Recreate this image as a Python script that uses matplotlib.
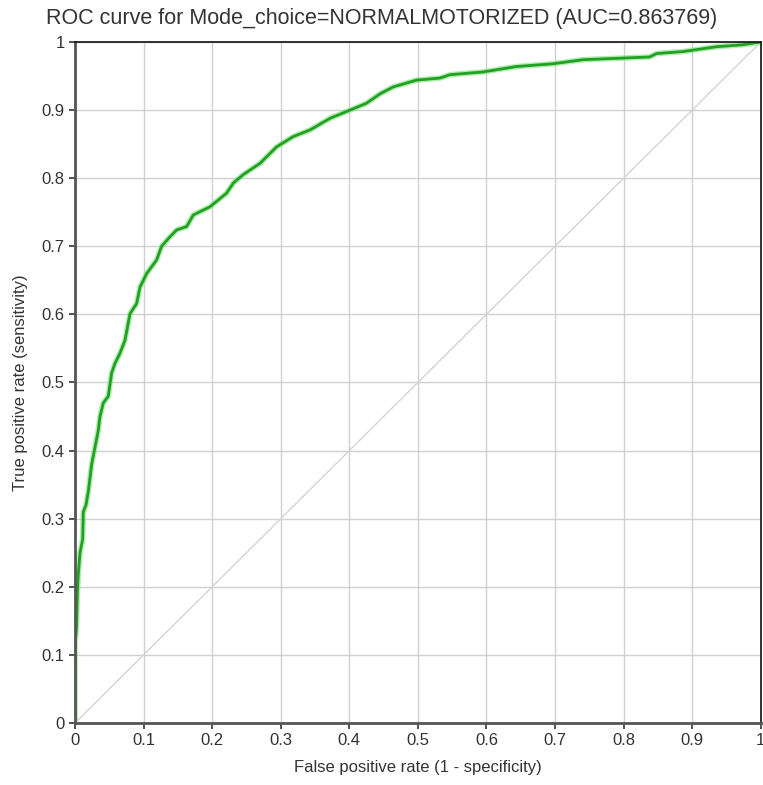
import matplotlib
matplotlib.use('Agg')
import matplotlib.pyplot as plt
import numpy as np

plt.rcParams['font.family'] = ['Liberation Sans', 'DejaVu Sans']

# ROC curve points
fpr = [0.0, 0.0, 0.0015, 0.0024, 0.0034, 0.0049, 0.0073, 0.0112, 0.0121, 0.016,
       0.0194, 0.0243, 0.0282, 0.034, 0.0364, 0.0413, 0.0486, 0.0534, 0.0583,
       0.0656, 0.0729, 0.0802, 0.0899, 0.0948, 0.1045, 0.1191, 0.1263, 0.1385,
       0.1482, 0.1628, 0.1725, 0.1968, 0.221, 0.231, 0.245, 0.27, 0.294, 0.318,
       0.343, 0.372, 0.401, 0.425, 0.445, 0.464, 0.498, 0.532, 0.547, 0.595,
       0.644, 0.697, 0.741, 0.838, 0.848, 0.887, 0.935, 0.974, 1.0]
tpr = [0.0, 0.12, 0.13, 0.145, 0.19, 0.22, 0.25, 0.27, 0.31, 0.32,
       0.34, 0.38, 0.40, 0.43, 0.45, 0.47, 0.48, 0.514, 0.528,
       0.543, 0.562, 0.601, 0.616, 0.640, 0.660, 0.680, 0.700, 0.714,
       0.724, 0.729, 0.746, 0.758, 0.778, 0.793, 0.805, 0.822, 0.846, 0.861,
       0.871, 0.888, 0.900, 0.910, 0.924, 0.934, 0.944, 0.947, 0.952, 0.956,
       0.964, 0.968, 0.974, 0.978, 0.983, 0.986, 0.993, 0.996, 1.0]
auc = 0.863769

fig = plt.figure(figsize=(7.63, 7.85), dpi=100)
ax = fig.add_axes([0.0983, 0.079, 0.8987, 0.8675])

ax.plot([0, 1], [0, 1], color='#d4d4d4', lw=1)
ax.plot(fpr, tpr, color='#7be07b', lw=4, alpha=0.6, solid_joinstyle='round')
ax.plot(fpr, tpr, color='#22a022', lw=2)

ax.set_xlim(0, 1)
ax.set_ylim(0, 1)
ticks = np.arange(0, 1.01, 0.1)
labels = ['0'] + ['%.1f' % t for t in ticks[1:-1]] + ['1']
ax.set_xticks(ticks)
ax.set_xticklabels(labels)
ax.set_yticks(ticks)
ax.set_yticklabels(labels)
ax.grid(True, color='#d0d0d0', lw=1)
ax.set_axisbelow(True)
ax.tick_params(direction='out', length=4, labelsize=12, colors='#333333', width=1.2)

for side in ['left', 'bottom']:
    ax.spines[side].set_color('#555555')
    ax.spines[side].set_linewidth(2)
for side in ['top', 'right']:
    ax.spines[side].set_color('#111111')
    ax.spines[side].set_linewidth(1.2)

ax.set_xlabel('False positive rate (1 - specificity)', fontsize=12, color='#333333', labelpad=8)
ax.set_ylabel('True positive rate (sensitivity)', fontsize=12, color='#333333', labelpad=10)
fig.text(0.5, 0.977, 'ROC curve for Mode_choice=NORMALMOTORIZED (AUC=%.6f)' % auc,
         fontsize=15.5, color='#333333', ha='center', va='center')

fig.savefig('out.png', dpi=100)
